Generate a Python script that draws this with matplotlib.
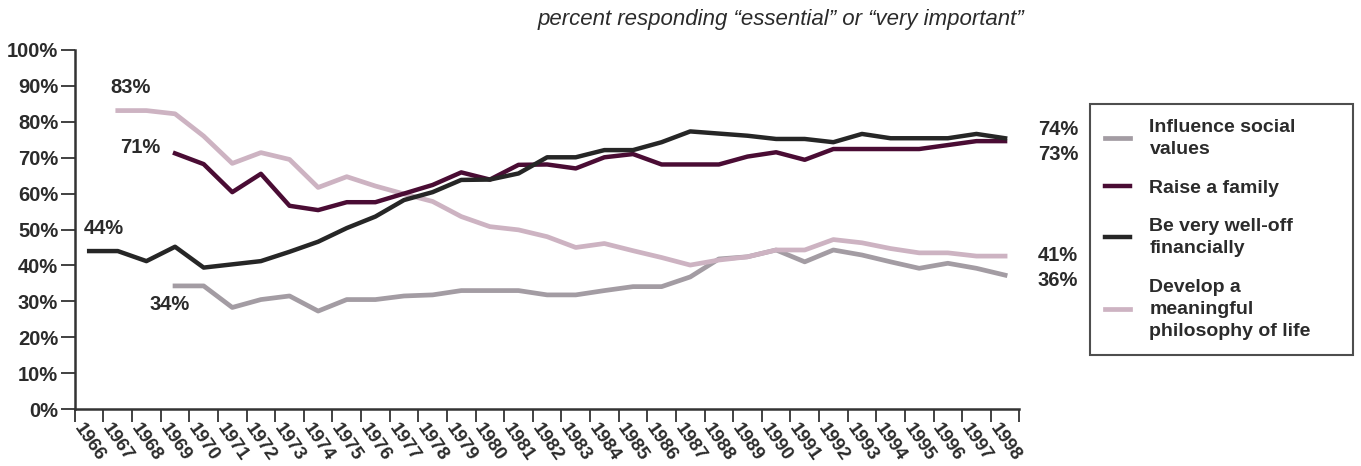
import matplotlib
matplotlib.use('Agg')
import matplotlib.pyplot as plt
import numpy as np

plt.rcParams['font.family'] = ['Liberation Sans', 'DejaVu Sans']

years = [str(y) for y in range(1966, 1999)]
nan = np.nan

well_off = [44, 44, 41.2, 45.2, 39.4, 40.3, 41.2, 43.8, 46.6, 50.4, 53.6, 58.2, 60.4,
            63.8, 63.9, 65.6, 70.1, 70.1, 72.1, 72.1, 74.3, 77.3,
            76.7, 76.1, 75.2, 75.2, 74.3, 76.6, 75.4, 75.4, 75.4, 76.6, 75.4]
family = [nan, nan, nan, 71.2, 68.2, 60.4, 65.5, 56.6, 55.4, 57.6, 57.6, 60, 62.4,
          65.9, 63.9, 68, 68.1, 67, 70.1, 71, 68.1, 68.1,
          68.1, 70.3, 71.5, 69.4, 72.4, 72.4, 72.4, 72.4, 73.5, 74.6, 74.6]
philosophy = [nan, 83.1, 83.1, 82.2, 76, 68.4, 71.4, 69.5, 61.7, 64.7, 62.1, 59.9, 57.8,
              53.6, 50.8, 49.9, 48, 45, 46.1, 44.1, 42.2, 40.1,
              41.5, 42.4, 44.3, 44.3, 47.2, 46.3, 44.7, 43.5, 43.5, 42.6, 42.6]
social = [nan, nan, nan, 34.3, 34.3, 28.3, 30.5, 31.5, 27.3, 30.5, 30.5, 31.5, 31.8,
          33, 33, 33, 31.8, 31.8, 33, 34.1, 34.1, 36.8,
          41.8, 42.4, 44.3, 41, 44.3, 42.9, 41, 39.2, 40.6, 39.2, 37.3]

# end labels (text, x index, y value)
labels = [('83%', 1.45, 89.5), ('71%', 1.8, 72.7), ('44%', 0.5, 50.4), ('34%', 2.8, 29),
          ('74%', 33.85, 77.7), ('73%', 33.85, 70.8), ('41%', 33.85, 42.9), ('36%', 33.85, 35.9)]

c_social = '#a39ca3'
c_family = '#4a0c34'
c_welloff = '#262626'
c_phil = '#cdb3c2'
txt = '#2b2b2b'

fig = plt.figure(figsize=(13.61, 4.66), dpi=100)
ax = fig.add_axes([0.055, 0.122, 0.694, 0.771])

x = np.arange(len(years))
l1, = ax.plot(x, social, color=c_social, lw=3.4, label='Influence social\nvalues')
l4, = ax.plot(x, philosophy, color=c_phil, lw=3.4, label='Develop a\nmeaningful\nphilosophy of life')
l2, = ax.plot(x, family, color=c_family, lw=3.2, label='Raise a family')
l3, = ax.plot(x, well_off, color=c_welloff, lw=3.2, label='Be very well-off\nfinancially')

for t, xi, yi in labels:
    ax.text(xi, yi, t, ha='center', va='center', fontsize=14.5, fontweight='bold',
            color=txt, clip_on=False)

ax.set_xlim(-0.5, len(years) - 0.5)
ax.set_ylim(0, 100)
ax.set_yticks(range(0, 101, 10))
ax.set_yticklabels([str(v) + '%' for v in range(0, 101, 10)], fontsize=14.5,
                   fontweight='bold', color=txt)
ax.set_xticks(x)
ax.set_xticklabels(years, rotation=-55, ha='center', va='top', fontsize=13.5,
                   fontweight='bold', color=txt)
ax.set_xticks(np.arange(-0.5, len(years)), minor=True)
ax.tick_params(axis='x', which='major', length=0, pad=8)
ax.tick_params(axis='x', which='minor', length=9, width=1.3, color='#333333')
ax.tick_params(axis='y', length=10, width=1.3, color='#333333', pad=2)

for s in ['top', 'right']:
    ax.spines[s].set_visible(False)
for s in ['left', 'bottom']:
    ax.spines[s].set_linewidth(1.8)
    ax.spines[s].set_color('#333333')

fig.text(0.574, 0.958, 'percent responding \u201cessential\u201d or \u201cvery important\u201d',
         ha='center', va='center', fontsize=16, style='italic', color=txt)

leg = fig.legend(handles=[l1, l2, l3, l4], loc='upper left',
                 bbox_to_anchor=(0.801, 0.245, 0.193, 0.532), mode='expand',
                 borderaxespad=0, fontsize=14, frameon=True, fancybox=False,
                 handlelength=1.3, handletextpad=1.0, labelspacing=1.1, borderpad=0.75)
leg.get_frame().set_edgecolor('#222222')
leg.get_frame().set_linewidth(1.5)
for t in leg.get_texts():
    t.set_fontweight('bold')
    t.set_color(txt)
    t.set_linespacing(1.4)

fig.savefig('out.png', dpi=100)
